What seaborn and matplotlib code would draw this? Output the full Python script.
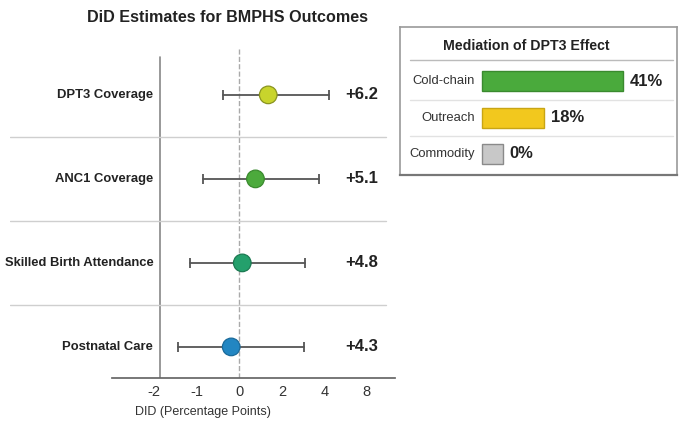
import matplotlib
matplotlib.use('Agg')
import matplotlib.pyplot as plt
import seaborn as sns
import pandas as pd
import numpy as np

# forest plot data (axis positions follow the drawn tick spacing)
outcomes = ['DPT3 Coverage', 'ANC1 Coverage', 'Skilled Birth Attendance', 'Postnatal Care']
estimates = [0.68, 0.38, 0.07, -0.19]
ci_low = [-0.38, -0.85, -1.15, -1.44]
ci_high = [2.12, 1.88, 1.55, 1.53]
did_labels = ['+6.2', '+5.1', '+4.8', '+4.3']
dot_colors = ['#c8d42c', '#4caa3c', '#24a06c', '#2286c2']
dot_edges = ['#8a9420', '#3a8a2e', '#1c7a52', '#1a6a9a']
tick_pos = [-2, -1, 0, 1, 2, 3]
tick_labels = ['-2', '-1', '0', '2', '4', '8']

# mediation panel data
channels = ['Cold-chain', 'Outreach', 'Commodity']
mediation = [41, 18, 0]
bar_colors = ['#4aaa3c', '#f2c81e', '#c8c8c8']
bar_edges = ['#3a8a2e', '#c9a514', '#8a8a8a']

sns.set_theme(style='white')
plt.rcParams['font.family'] = ['Liberation Sans', 'DejaVu Sans']

W, H = 679, 423
fig = plt.figure(figsize=(W / 100, H / 100), dpi=100)


def px_axes(x0, y0, x1, y1):
    return fig.add_axes([x0 / W, 1 - y1 / H, (x1 - x0) / W, (y1 - y0) / H])


# ---------------- forest plot ----------------
ax = px_axes(10, 47, 395, 378)
df = pd.DataFrame({'outcome': outcomes, 'est': estimates, 'row': range(len(outcomes))})
ax.set_xlim(-5.39, 3.66)
ax.set_ylim(3.37, -0.57)

ax.axvline(0, color='#aaaaaa', ls='--', lw=1, zorder=1)
ax.plot([-1.86, -1.86], [-0.45, 3.37], color='#888888', lw=1.2, zorder=1)
for y in [0.5, 1.5, 2.5]:
    ax.plot([-5.39, 3.45], [y, y], color='#cfcfcf', lw=1, zorder=1)

for i in range(len(outcomes)):
    ax.plot([ci_low[i], ci_high[i]], [i, i], color='#555555', lw=1.3, zorder=2)
    ax.plot([ci_low[i], ci_high[i]], [i, i], ls='none', marker='|', ms=7,
            mew=1.3, color='#555555', zorder=2)
    ax.text(-2.02, i, outcomes[i], ha='right', va='center', fontsize=9.4,
            fontweight='bold', color='#222222')
    ax.text(2.5, i, did_labels[i], ha='left', va='center', fontsize=12,
            fontweight='bold', color='#222222')

sns.scatterplot(data=df, x='est', y='row', hue='outcome', palette=dot_colors,
                s=160, edgecolor=dot_edges, linewidth=0.9, legend=False, ax=ax, zorder=3)

for s in ['top', 'right', 'left']:
    ax.spines[s].set_visible(False)
ax.spines['bottom'].set_bounds(-3.0, 3.66)
ax.spines['bottom'].set_color('#666666')
ax.set_yticks([])
ax.set_xticks(tick_pos)
ax.set_xticklabels(tick_labels)
ax.tick_params(axis='x', direction='inout', length=4, color='#999999',
               labelsize=10.5, labelcolor='#333333', pad=3)
ax.set_xlabel('DID (Percentage Points)', fontsize=9, color='#333333', labelpad=5)
ax.set_ylabel('')
fig.text(228 / W, 1 - 18 / H, 'DiD Estimates for BMPHS Outcomes', ha='center',
         va='center', fontsize=11.6, fontweight='bold', color='#222222')

# ---------------- mediation panel ----------------
bx = px_axes(400, 27, 677, 175)
shown = [max(v, 6) for v in mediation]  # keep a small stub visible for 0%
mdf = pd.DataFrame({'channel': channels, 'share': shown})
sns.barplot(data=mdf, x='share', y='channel', hue='channel', palette=bar_colors,
            orient='h', width=0.55, saturation=1, legend=False, ax=bx)
for p, ec in zip(bx.patches, bar_edges):
    p.set_edgecolor(ec)
    p.set_linewidth(1)
bx.set_xlim(-23.8, 56.7)
bx.set_ylim(2.58, -1.5)
for i in range(len(channels)):
    bx.text(-2, i, channels[i], ha='right', va='center', fontsize=9.4, color='#333333')
    bx.text(shown[i] + 2, i, f'{mediation[i]}%', ha='left', va='center',
            fontsize=12, fontweight='bold', color='#222222')
bx.text(13, -0.99, 'Mediation of DPT3 Effect', ha='center', va='center',
        fontsize=10.2, fontweight='bold', color='#222222')
bx.plot([-21, 55.5], [-0.6, -0.6], color='#bbbbbb', lw=1)
for y in [0.5, 1.5]:
    bx.plot([-21, 55.5], [y, y], color='#e2e2e2', lw=1)
bx.set_xticks([])
bx.set_yticks([])
bx.set_xlabel('')
bx.set_ylabel('')
for s in bx.spines.values():
    s.set_visible(True)
    s.set_color('#9a9a9a')
    s.set_linewidth(1.2)
bx.spines['bottom'].set_color('#777777')
bx.spines['bottom'].set_linewidth(1.6)

fig.savefig('out.png', dpi=100)
